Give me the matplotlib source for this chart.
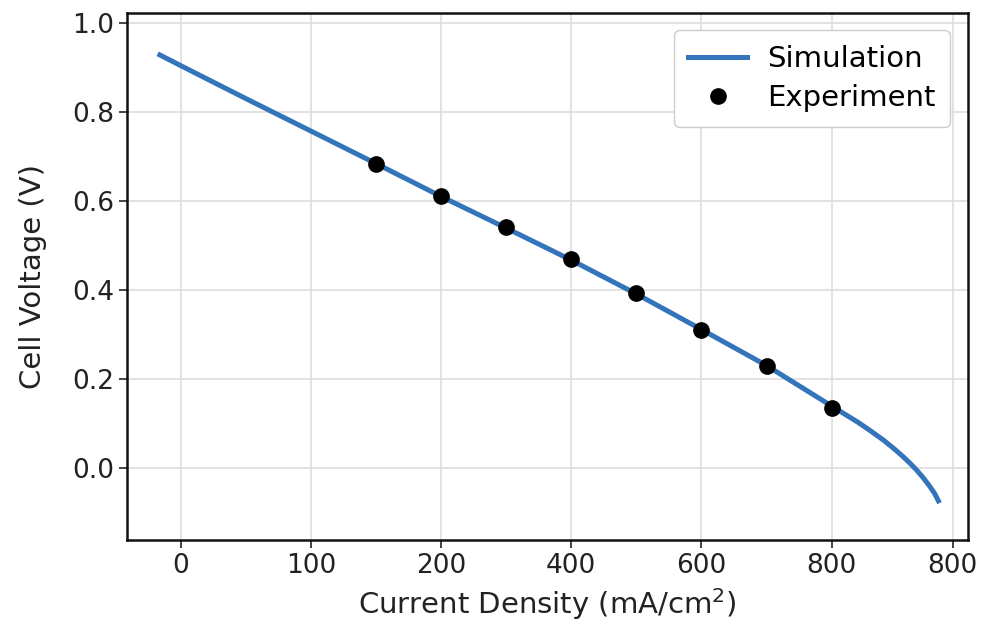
import numpy as np
import matplotlib.pyplot as plt

# simulated polarization curve
sim_x = [-16, 0, 50, 100, 150, 200, 250, 300, 350, 400, 450, 500, 510, 520, 530, 540,
         548, 555, 560, 565, 570, 575, 579, 582]
sim_v = [0.929, 0.905, 0.831, 0.758, 0.685, 0.611, 0.540, 0.468, 0.392, 0.312, 0.231, 0.140,
         0.122, 0.104, 0.084, 0.063, 0.044, 0.026, 0.012, -0.003, -0.020, -0.039, -0.056, -0.073]

# experimental points
exp_x = [150, 200, 250, 300, 350, 400, 450, 500]
exp_v = [0.685, 0.612, 0.542, 0.470, 0.393, 0.311, 0.231, 0.136]

# x tick positions / labels as printed on the chart
xtick_pos = [0, 100, 200, 300, 400, 500, 593]
xtick_lab = ['0', '100', '200', '400', '600', '800', '800']
ytick_pos = [0.0, 0.2, 0.4, 0.6, 0.8, 1.0]

plt.rcParams['font.family'] = ['DejaVu Sans']
fig = plt.figure(figsize=(9.91, 6.28), dpi=100)
ax = fig.add_axes([0.1285, 0.1401, 0.848, 0.8397])

ax.grid(True, color='#dddddd', linewidth=1.2, zorder=0)
ax.plot(sim_x, sim_v, color='#3374bb', linewidth=3.6, label='Simulation', zorder=2)
ax.plot(exp_x, exp_v, 'o', color='black', markersize=11, label='Experiment', zorder=3)

ax.set_xlim(-41, 604.5)
ax.set_ylim(-0.161, 1.024)
ax.set_xticks(xtick_pos)
ax.set_xticklabels(xtick_lab)
ax.set_yticks(ytick_pos)
ax.tick_params(labelsize=19, length=6, width=1.2, colors='#222222')
for s in ax.spines.values():
    s.set_linewidth(1.8)
    s.set_color('#111111')

ax.set_xlabel('Current Density (mA/cm$^2$)', fontsize=21, color='#222222', labelpad=5)
ax.set_ylabel('Cell Voltage (V)', fontsize=21, color='#222222', labelpad=18)

leg = ax.legend(loc='upper right', fontsize=21, handlelength=2.0, borderpad=0.5,
                labelspacing=0.4, framealpha=1.0, borderaxespad=0.6, handletextpad=0.7)
leg.get_frame().set_edgecolor('#cccccc')

plt.savefig('out.png', dpi=100)
